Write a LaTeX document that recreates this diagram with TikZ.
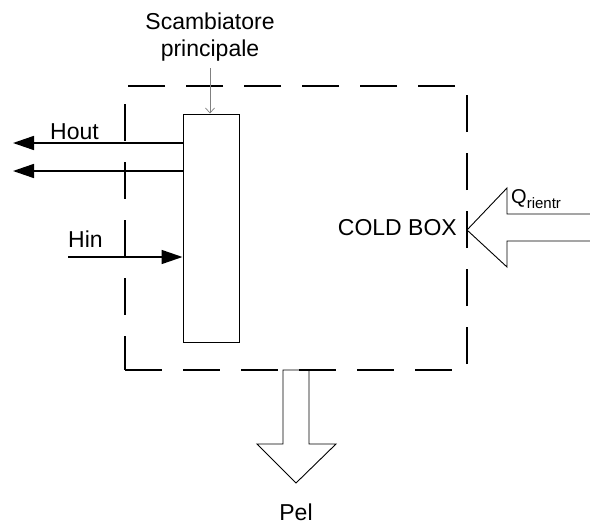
\documentclass[tikz,border=0pt]{standalone}
\usepackage{fontspec}
\setmainfont{Liberation Sans}
\usetikzlibrary{arrows.meta}

\begin{document}
\begin{tikzpicture}[x=1pt,y=-1pt,
  lbl/.style={inner sep=0pt,font=\fontsize{23}{27}\selectfont},
  flow/.style={line width=1.6pt,-{Triangle[length=21pt,width=14pt]}},
  boxline/.style={line width=2.4pt,dash pattern=on 37pt off 21pt},
  bigarrow/.style={line width=0.9pt,line join=miter}]
\useasboundingbox (0,0) rectangle (590,525);
\coordinate (bl) at (125,370);
\coordinate (br) at (467,370);
\coordinate (tr) at (467,86);
\coordinate (tl) at (125,86);
% Pel
\draw[bigarrow] (283,370) -- (283,444) -- (257,444) -- (296,483)
   -- (336,444) -- (309,444) -- (309,370) -- cycle;
\node[lbl,anchor=base] (pel) at (296,520) {Pel};
% cold box
\draw[boxline] (bl) -- (br) -- (tr) -- (tl) -- cycle;
\node[lbl,anchor=base east] (coldbox) at (457,235) {COLD BOX};
% Q rientr
\coordinate (qtip) at (467,230);
\draw[bigarrow] (590,214) -- (507,214) -- (507,188) -- (qtip)
   -- (507,267) -- (507,241) -- (590,241);
\node[anchor=base west,inner sep=0pt,font=\fontsize{20}{24}\selectfont] (qrientr)
   at (511,203) {Q\raisebox{-5pt}{\fontsize{15}{18}\selectfont rientr}};
% scambiatore
\node[draw,line width=1pt,minimum width=56,minimum height=228,inner sep=0pt] (exch) at (211,228) {};
\node[lbl,align=center,anchor=south] (scamb) at (210,61) {Scambiatore\\principale};
\coordinate (scambtop) at (210,68);
\draw[gray,line width=0.7pt,-{Straight Barb[length=5pt,width=9pt]}] (scambtop) -- (scambtop |- exch.north);
\foreach \y/\n in {143/a,171/b} {
   \coordinate (hout\n) at (13,\y);
   \draw[flow] (exch.west |- hout\n) -- (hout\n);
}
\coordinate (hinstart) at (68,257);
\draw[flow] (hinstart) -- (exch.west |- hinstart);
\node[lbl,anchor=base west] (hout) at (50,139) {Hout};
\node[lbl,anchor=base west] (hin) at (68,247) {Hin};
\end{tikzpicture}
\end{document}
